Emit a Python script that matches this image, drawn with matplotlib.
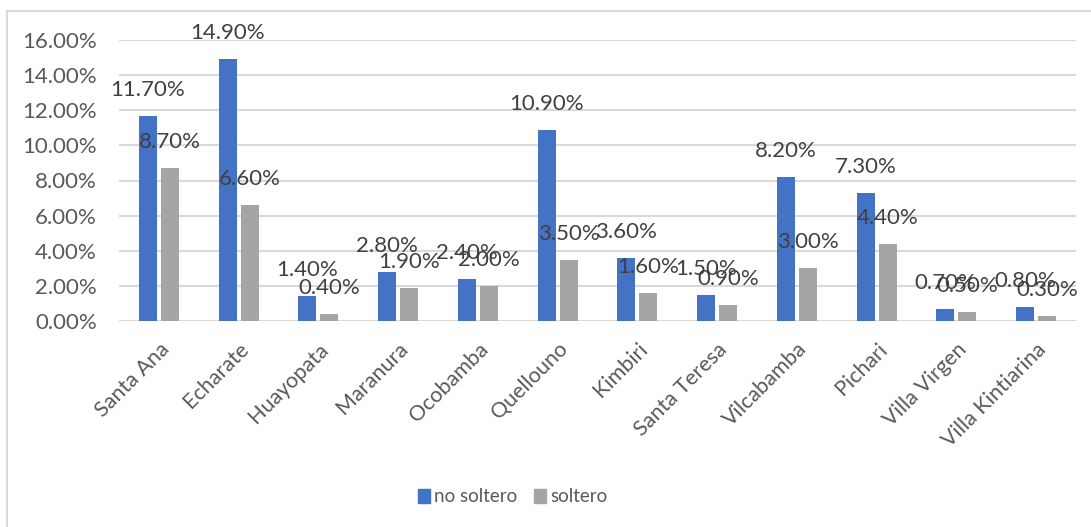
import matplotlib
matplotlib.use("Agg")
import matplotlib.pyplot as plt
from matplotlib.lines import Line2D
from matplotlib.patches import Patch
import numpy as np

categories = ["Santa Ana", "Echarate", "Huayopata", "Maranura", "Ocobamba", "Quellouno",
              "Kimbiri", "Santa Teresa", "Vilcabamba", "Pichari", "Villa Virgen", "Villa Kintiarina"]
no_soltero = [11.7, 14.9, 1.4, 2.8, 2.4, 10.9, 3.6, 1.5, 8.2, 7.3, 0.7, 0.8]
soltero = [8.7, 6.6, 0.4, 1.9, 2.0, 3.5, 1.6, 0.9, 3.0, 4.4, 0.5, 0.3]
series_names = ["no soltero", "soltero"]
yticks = [0, 2, 4, 6, 8, 10, 12, 14, 16]

BLUE = "#4472C4"
GRAY = "#A5A5A5"
TXT = "#595959"
LBL = "#404040"
FONT = "Lato"
FS = 16
FS_CAT = 15.5
FS_LEG = 13.5

W, H = 1091, 527
fig = plt.figure(figsize=(W / 100, H / 100), dpi=100)
ax = fig.add_axes([119 / W, 1 - 321 / H, (1076 - 119) / W, (321 - 40) / H])

x = np.arange(len(categories))
bw = 0.226
off = 0.138
ax.bar(x - off, no_soltero, bw, color=BLUE, zorder=3, label=series_names[0])
ax.bar(x + off, soltero, bw, color=GRAY, zorder=3, label=series_names[1])

for xi, v in zip(x - off, no_soltero):
    ax.annotate(f"{v:.2f}%", (xi, v), xytext=(0, 18.7), textcoords="offset points",
                ha="center", va="center", fontsize=FS, color=LBL, family=FONT, zorder=5)
for xi, v in zip(x + off, soltero):
    ax.annotate(f"{v:.2f}%", (xi, v), xytext=(0, 18.7), textcoords="offset points",
                ha="center", va="center", fontsize=FS, color=LBL, family=FONT, zorder=5)

ax.set_xlim(-0.5, len(categories) - 0.5)
ax.set_ylim(0, 16)
ax.set_yticks(yticks)
ax.set_yticklabels([f"{t:.2f}%" for t in yticks], fontsize=FS, color=TXT, family=FONT)
ax.set_xticks(x)
ax.set_xticklabels(categories, rotation=45, ha="right", rotation_mode="anchor",
                   fontsize=FS_CAT, color=TXT, family=FONT)
ax.tick_params(axis="y", length=0, pad=16)
ax.tick_params(axis="x", length=0, pad=13)
ax.grid(axis="y", color="#D9D9D9", linewidth=1.5, zorder=0)
for s in ax.spines.values():
    s.set_visible(False)

# outer chart border (top and left visible)
fig.add_artist(Line2D([7 / W, 1.0], [1 - 11 / H, 1 - 11 / H], color="#D9D9D9", lw=1.5,
                      transform=fig.transFigure))
fig.add_artist(Line2D([7 / W, 7 / W], [0, 1 - 11 / H], color="#D9D9D9", lw=1.5,
                      transform=fig.transFigure))

handles = [Patch(color=BLUE), Patch(color=GRAY)]
fig.legend(handles, series_names, loc="center", bbox_to_anchor=(513 / W, 1 - 497 / H),
           ncol=2, frameon=False, handlelength=0.6, handleheight=0.75, handletextpad=0.25,
           columnspacing=0.9, prop={"family": FONT, "size": FS_LEG}, labelcolor=TXT)

fig.savefig("out.png", dpi=100, facecolor="white")
